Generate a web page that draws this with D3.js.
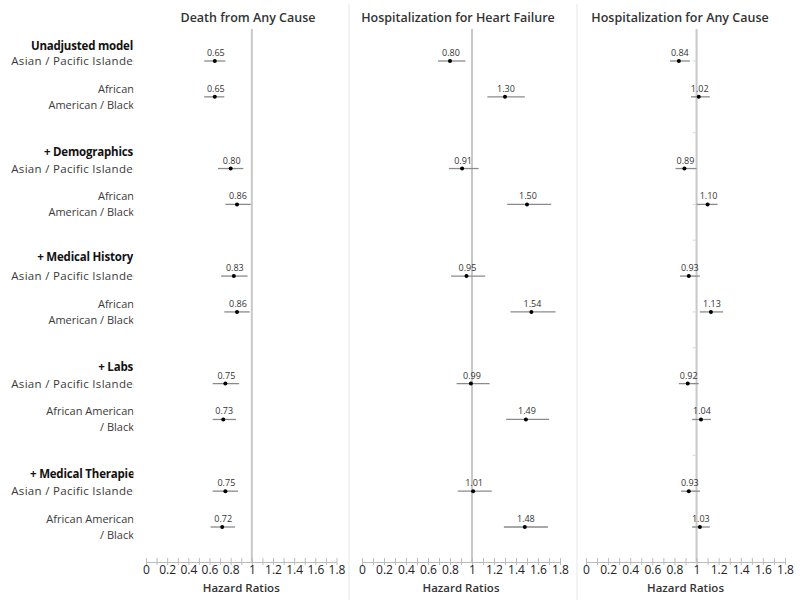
<!DOCTYPE html>
<html><head><meta charset="utf-8">
<script src="https://cdn.jsdelivr.net/npm/d3@7"></script>
<style>body{margin:0;background:#fff}svg{display:block;font-family:"Open Sans",sans-serif}</style>
</head><body>
<script>
const groups = ["Unadjusted model","+ Demographics","+ Medical History","+ Labs","+ Medical Therapies"];
const asianLabel = ["Asian / Pacific Islander"];
const africanLabels = [["African","American / Black"],["African","American / Black"],["African","American / Black"],["African American","/ Black"],["African American","/ Black"]];
const panelTitles = ["Death from Any Cause","Hospitalization for Heart Failure","Hospitalization for Any Cause"];
const tickValues = [0,0.1,0.2,0.3,0.4,0.5,0.6,0.7,0.8,0.9,1,1.1,1.2,1.3,1.4,1.5,1.6,1.7,1.8];
const tickLabels = ["0","0.2","0.4","0.6","0.8","1","1.2","1.4","1.6","1.8"];
// order per group: Asian, African
const deathHR = [0.65,0.65, 0.80,0.86, 0.83,0.86, 0.75,0.73, 0.75,0.72];
const deathLo = [0.55,0.55, 0.68,0.75, 0.71,0.74, 0.63,0.63, 0.63,0.61];
const deathHi = [0.75,0.74, 0.92,0.99, 0.96,0.98, 0.88,0.85, 0.87,0.84];
const hfHR = [0.80,1.30, 0.91,1.50, 0.95,1.54, 0.99,1.49, 1.01,1.48];
const hfLo = [0.69,1.14, 0.79,1.32, 0.81,1.35, 0.86,1.31, 0.87,1.29];
const hfHi = [0.94,1.48, 1.06,1.72, 1.12,1.76, 1.16,1.70, 1.18,1.69];
const anyHR = [0.84,1.02, 0.89,1.10, 0.93,1.13, 0.92,1.04, 0.93,1.03];
const anyLo = [0.76,0.95, 0.81,1.00, 0.85,1.03, 0.84,0.96, 0.86,0.96];
const anyHi = [0.94,1.12, 1.00,1.19, 1.03,1.24, 1.02,1.13, 1.03,1.12];

const W=800,H=606;
const svg=d3.select("body").append("svg").attr("width",W).attr("height",H);
const y=d3.scaleLinear().domain([0,13]).range([61,527]);
const slotOf=i=>Math.floor(i/2)*3+(i%2);

const panels=[
 {title:panelTitles[0],hr:deathHR,lo:deathLo,hi:deathHi,range:[146,336.5],tx:248},
 {title:panelTitles[1],hr:hfHR,lo:hfLo,hi:hfHi,range:[362,560],tx:458},
 {title:panelTitles[2],hr:anyHR,lo:anyLo,hi:anyHi,range:[586,785],tx:680,yticks:true}
];
const axisY=562;
[349,577].forEach(x=>svg.append("line").attr("x1",x).attr("x2",x).attr("y1",4).attr("y2",600).attr("stroke","#e6e6e6").attr("stroke-width",1));

const lab=svg.append("g").attr("font-size",11.5).attr("fill","#3a3a3a").attr("text-anchor","end");
svg.append("clipPath").attr("id","lc").append("rect").attr("x",0).attr("y",0).attr("width",133.5).attr("height",H);
lab.attr("clip-path","url(#lc)");
const headerDy=[-15,-17,-19,-17,-17];
groups.forEach((g,gi)=>{
  const ya=y(gi*3), yb=y(gi*3+1);
  lab.append("text").attr("x",gi===4?140:133).attr("y",ya+headerDy[gi]+4).attr("font-weight","bold").attr("font-size",11.5).attr("letter-spacing",-0.2).attr("fill","#111").text(g);
  lab.append("text").attr("x",138).attr("y",ya+4).attr("font-size",11.5).attr("letter-spacing",0.3).text(asianLabel[0]);
  lab.append("text").attr("x",134).attr("y",yb-8+4).attr("font-size",11).text(africanLabels[gi][0]);
  lab.append("text").attr("x",134).attr("y",yb+8+4).attr("font-size",11).text(africanLabels[gi][1]);
});

panels.forEach(p=>{
  const x=d3.scaleLinear().domain([0,1.8]).range(p.range);
  const g=svg.append("g");
  g.append("text").attr("x",p.tx).attr("y",22).attr("text-anchor","middle").attr("font-size",12.5).attr("font-weight",600).attr("fill","#333").text(p.title);
  g.append("line").attr("x1",x(1)).attr("x2",x(1)).attr("y1",29).attr("y2",axisY).attr("stroke","#c8c8c8").attr("stroke-width",2);
  if(p.yticks){
    d3.range(0,14).forEach(s=>g.append("line").attr("x1",x(1)-4).attr("x2",x(1)).attr("y1",y(s)).attr("y2",y(s)).attr("stroke","#d8d8d8"));
  }
  const ax=d3.axisBottom(x).tickValues(tickValues).tickSize(3).tickSizeOuter(0)
     .tickFormat(d=>{const s=d3.format(".1f")(d);const t=(+s===0?"0":(+s===1?"1":s));return tickLabels.includes(t)?t:"";});
  const ag=g.append("g").attr("transform",`translate(0,${axisY})`).call(ax);
  ag.select(".domain").attr("stroke","#bbb");
  ag.selectAll(".tick line").attr("stroke","#bbb").attr("y1",-4).attr("y2",3);
  ag.selectAll(".tick text").attr("font-size",12).attr("fill","#222").attr("dy","0.5em").attr("font-family","Open Sans,sans-serif");
  g.append("text").attr("x",x(0.9)).attr("y",592).attr("text-anchor","middle").attr("font-size",11.5).attr("font-weight",600).attr("fill","#333").text("Hazard Ratios");
  p.hr.forEach((v,i)=>{
    const yy=y(slotOf(i));
    g.append("line").attr("x1",x(p.lo[i])).attr("x2",x(p.hi[i])).attr("y1",yy).attr("y2",yy).attr("stroke","#8a8a8a").attr("stroke-width",1.3);
    g.append("circle").attr("cx",x(v)).attr("cy",yy).attr("r",2).attr("fill","#000");
    g.append("text").attr("x",x(v)+1).attr("y",yy-5).attr("text-anchor","middle").attr("font-size",9).attr("fill","#333").text(d3.format(".2f")(v));
  });
});
</script>
</body></html>
